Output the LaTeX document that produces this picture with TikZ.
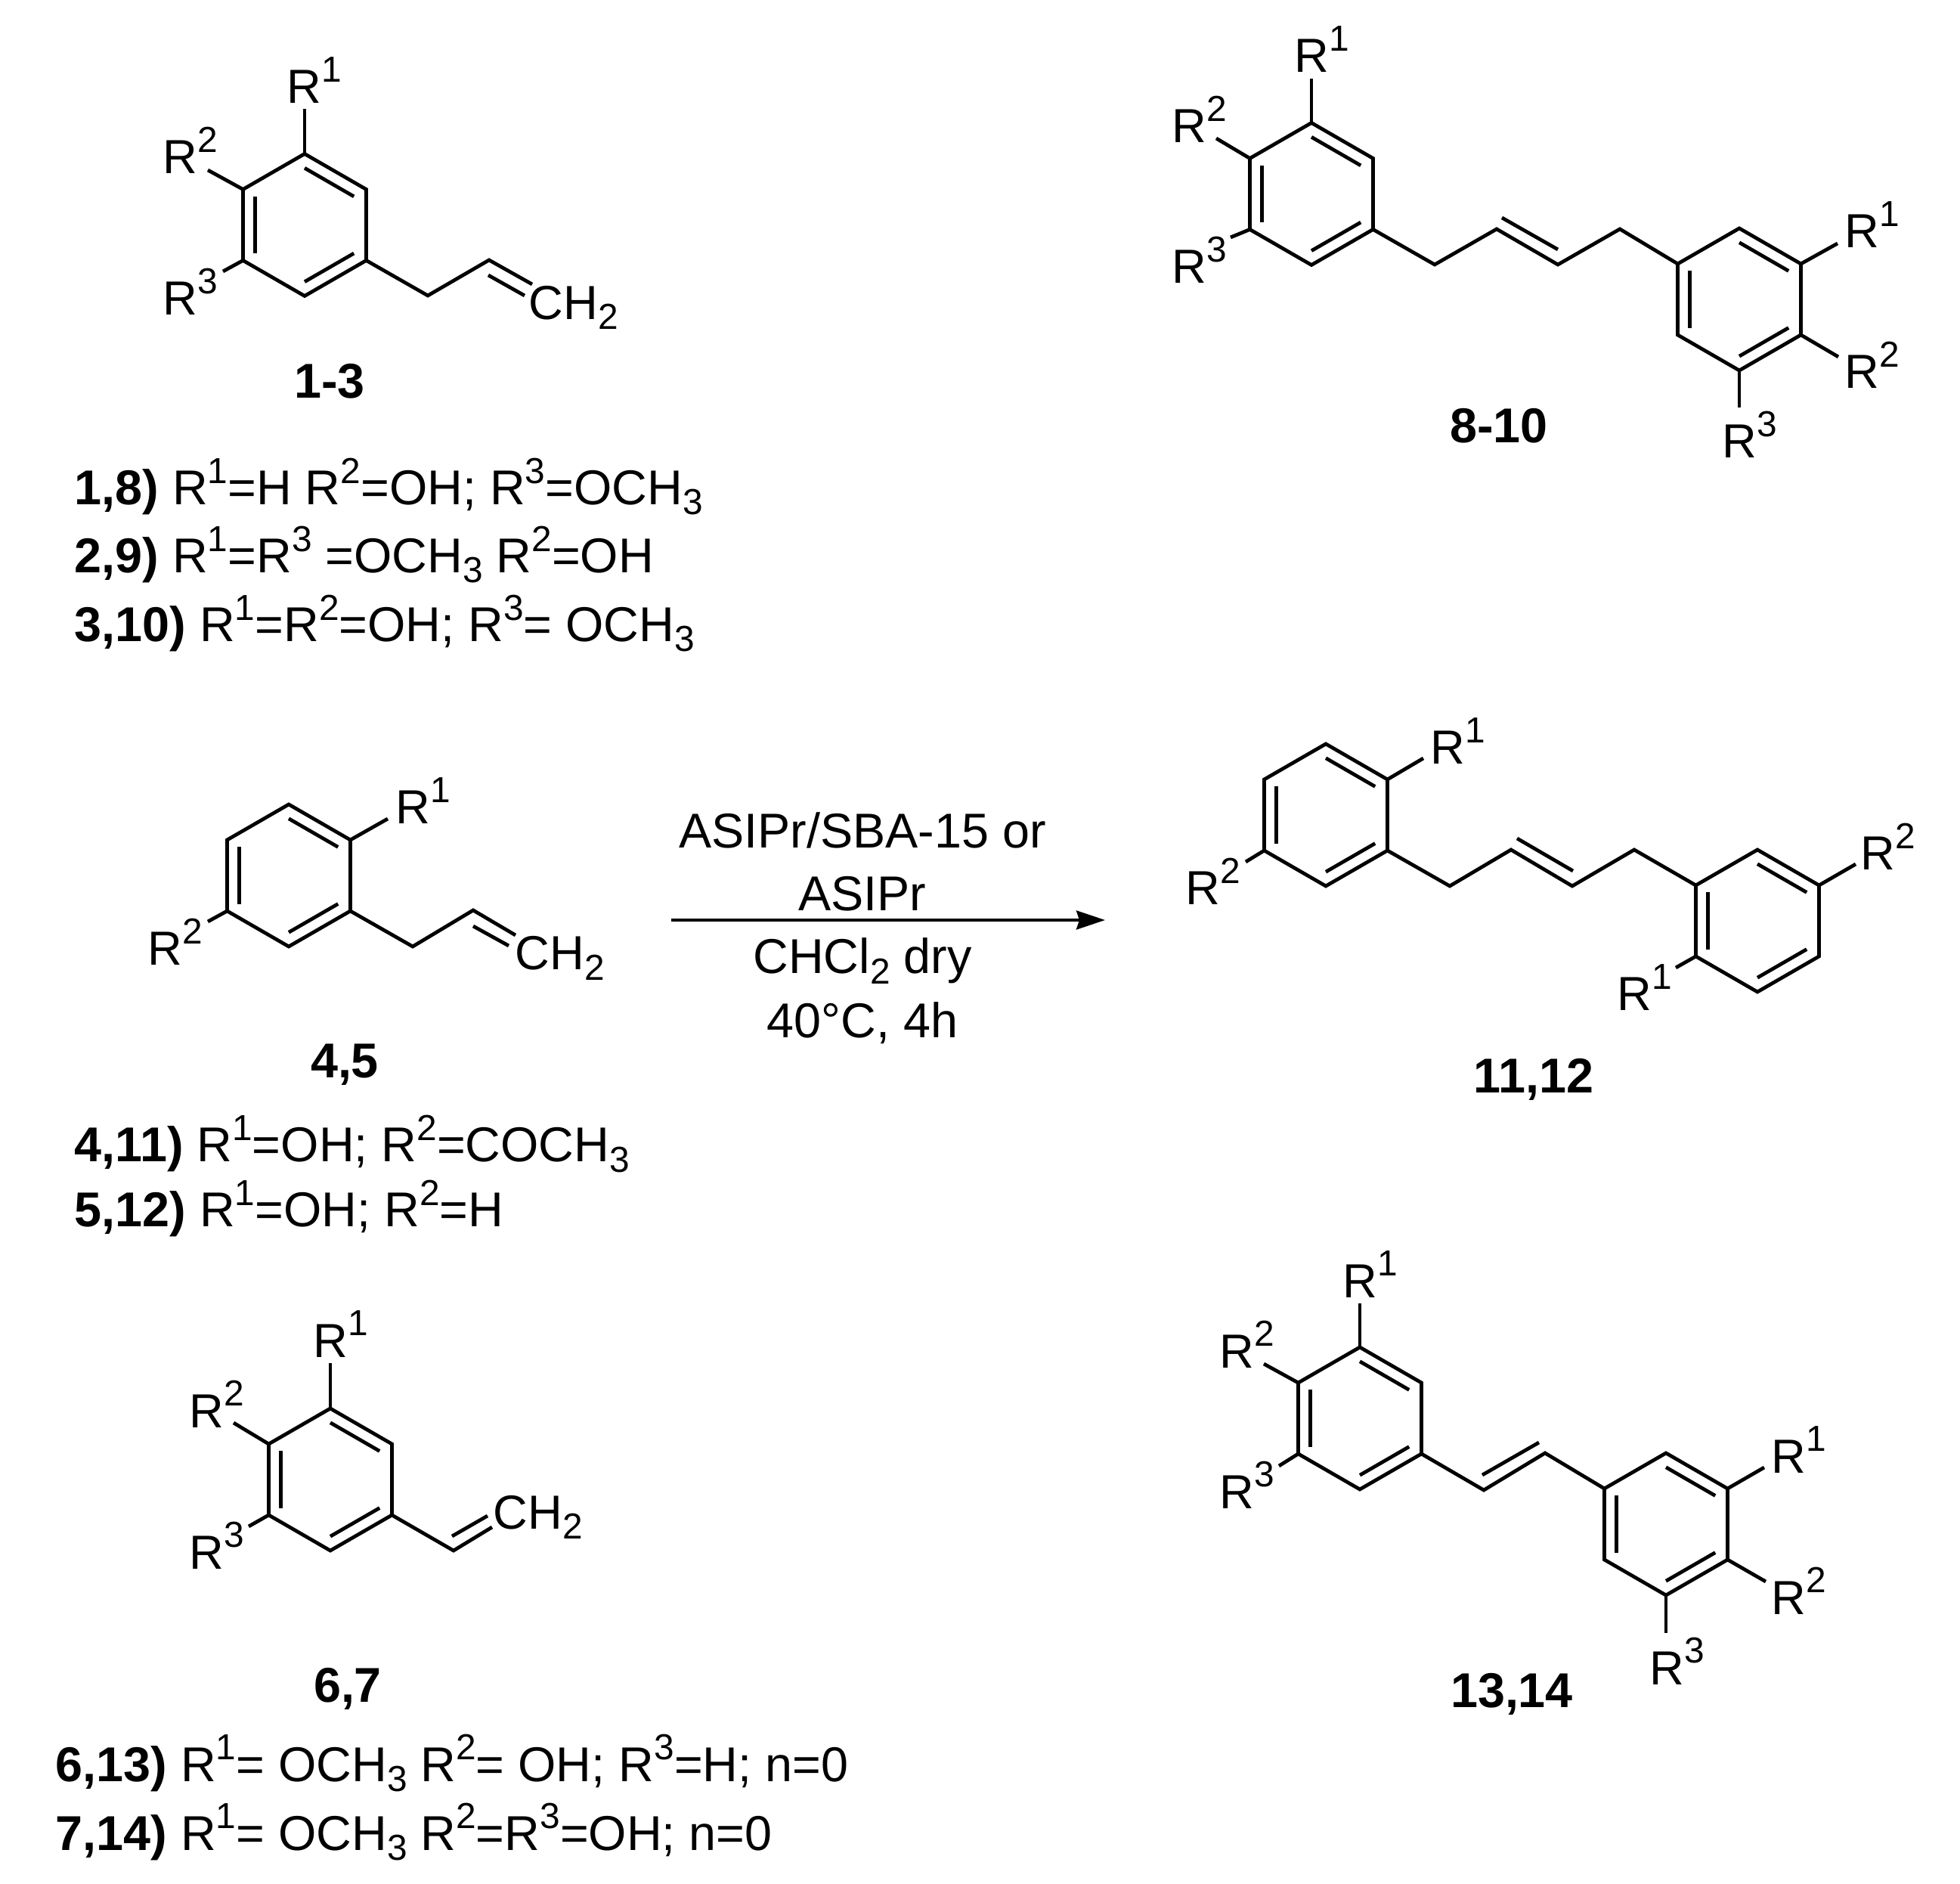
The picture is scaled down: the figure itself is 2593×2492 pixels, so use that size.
\documentclass[tikz,border=0pt]{standalone}
\usepackage{fontspec}
\setmainfont{Liberation Sans}
\usetikzlibrary{calc,arrows.meta}

\newcommand{\rsup}[1]{\raisebox{0.28cm}{\fontsize{13.6pt}{14pt}\selectfont #1}}
\newcommand{\rsub}[1]{\raisebox{-0.13cm}{\fontsize{13.6pt}{14pt}\selectfont #1}}

\begin{document}
\begin{tikzpicture}[
    x=0.01cm,
    y=-0.01cm,
    bond/.style={
        line width=1.35pt,
        line join=miter
    },
    atomtext/.style={
        anchor=base west,
        inner sep=0pt,
        font=\fontsize{18pt}{20pt}\selectfont
    },
    subline/.style={
        anchor=base west,
        inner sep=0pt,
        font=\fontsize{18.4pt}{22pt}\selectfont
    },
    compound/.style={
        anchor=base,
        inner sep=0pt,
        font=\fontsize{18.4pt}{22pt}\selectfont\bfseries
    },
    reagent/.style={
        anchor=base,
        inner sep=0pt,
        font=\fontsize{18.4pt}{22pt}\selectfont
    },
    arrow/.style={
        -{Stealth[length=3.8mm,width=2.5mm,inset=0.4mm]},
        line width=1pt
    }
]
\useasboundingbox (0,0) rectangle (2593,2492);

% Rings
\foreach \r/\cx/\cy in {ringa/403/297.5, ringb/1735/256.5, ringc/2301/396,
                        ringd/382/1158, ringe/1754/1078, ringf/2325/1218,
                        ringg/437/1957, ringh/1799/1876, ringi/2204/2016} {
    \coordinate (\r-c) at (\cx,\cy);
    \coordinate (\r-t) at (\cx,\cy-94);
    \coordinate (\r-ur) at (\cx+81.5,\cy-47);
    \coordinate (\r-lr) at (\cx+81.5,\cy+47);
    \coordinate (\r-b) at (\cx,\cy+94);
    \coordinate (\r-ll) at (\cx-81.5,\cy+47);
    \coordinate (\r-ul) at (\cx-81.5,\cy-47);
    \draw[bond] (\r-t) -- (\r-ur) -- (\r-lr) -- (\r-b) -- (\r-ll) -- (\r-ul) -- cycle;
    \draw[bond] ($(\r-t)!.2!(\r-c)$) -- ($(\r-ur)!.2!(\r-c)$);
    \draw[bond] ($(\r-lr)!.2!(\r-c)$) -- ($(\r-b)!.2!(\r-c)$);
    \draw[bond] ($(\r-ll)!.2!(\r-c)$) -- ($(\r-ul)!.2!(\r-c)$);
}

% Substituent bonds
\foreach \atom/\x/\y in {ringa-t/403/144, ringa-ul/275/225, ringa-ll/295/359,
                         ringb-t/1735/104, ringb-ul/1609/183, ringb-ll/1628/314,
                         ringc-ur/2431/322, ringc-lr/2432/472, ringc-b/2301/539,
                         ringd-ur/513/1083, ringd-ll/275/1219,
                         ringe-ur/1883/1003, ringe-ll/1648/1140,
                         ringf-ur/2455/1143, ringf-ll/2217/1280,
                         ringg-t/437/1803, ringg-ul/309/1882, ringg-ll/329/2019,
                         ringh-t/1799/1724, ringh-ul/1672/1804, ringh-ll/1692/1939,
                         ringi-ur/2334/1941, ringi-lr/2336/2092, ringi-b/2204/2160} {
    \coordinate (\atom-end) at (\x,\y);
    \draw[bond] (\atom) -- (\atom-end);
}

% Side chains
\coordinate (alla1) at (566,391);
\coordinate (alla2) at (647,344);
\coordinate (alla3) at (704,376);
\coordinate (alla4) at (646,364);
\coordinate (alla5) at (694,391);
\draw[bond] (ringa-lr) -- (alla1) -- (alla2) -- (alla3);
\draw[bond] (alla4) -- (alla5);

\coordinate (linkb1) at (1898,350);
\coordinate (linkb2) at (1980,303);
\coordinate (linkb3) at (2061,350);
\coordinate (linkb4) at (2143,303);
\coordinate (linkb5) at (1987,288);
\coordinate (linkb6) at (2061,330);
\draw[bond] (ringb-lr) -- (linkb1) -- (linkb2) -- (linkb3) -- (linkb4) -- (ringc-ul);
\draw[bond] (linkb5) -- (linkb6);

\coordinate (alld1) at (546,1252);
\coordinate (alld2) at (626,1204);
\coordinate (alld3) at (682,1237);
\coordinate (alld4) at (626,1225);
\coordinate (alld5) at (673,1251);
\draw[bond] (ringd-lr) -- (alld1) -- (alld2) -- (alld3);
\draw[bond] (alld4) -- (alld5);

\coordinate (linke1) at (1918,1172);
\coordinate (linke2) at (1999,1124);
\coordinate (linke3) at (2080,1172);
\coordinate (linke4) at (2162,1124);
\coordinate (linke5) at (2007,1109);
\coordinate (linke6) at (2081,1152);
\draw[bond] (ringe-lr) -- (linke1) -- (linke2) -- (linke3) -- (linke4) -- (ringf-ul);
\draw[bond] (linke5) -- (linke6);

\coordinate (vinyg1) at (600,2051);
\coordinate (vinyg2) at (651,2020);
\coordinate (vinyg3) at (598,2032);
\coordinate (vinyg4) at (645,2005);
\draw[bond] (ringg-lr) -- (vinyg1) -- (vinyg2);
\draw[bond] (vinyg3) -- (vinyg4);

\coordinate (linkh1) at (1963,1971);
\coordinate (linkh2) at (2044,1922);
\coordinate (linkh3) at (1961,1951);
\coordinate (linkh4) at (2036,1908);
\draw[bond] (ringh-lr) -- (linkh1) -- (linkh2) -- (ringi-ul);
\draw[bond] (linkh3) -- (linkh4);

% Compound 1-3
\node[atomtext] (a1) at (379,137) {R\rsup{1}};
\node[atomtext] (a2) at (215,230) {R\rsup{2}};
\node[atomtext] (a3) at (215,417) {R\rsup{3}};
\node[atomtext] (ach) at (699,423) {CH\rsub{2}};
\node[compound] (namea) at (436,527) {1-3};

% Compound 8-10
\node[atomtext] (b1) at (1712,96) {R\rsup{1}};
\node[atomtext] (b2) at (1550,189) {R\rsup{2}};
\node[atomtext] (b3) at (1550,375) {R\rsup{3}};
\node[atomtext] (c1) at (2440,328) {R\rsup{1}};
\node[atomtext] (c2) at (2440,514) {R\rsup{2}};
\node[atomtext] (c3) at (2278,606) {R\rsup{3}};
\node[compound] (nameb) at (1983,586) {8-10};

% Substituents of 1-3
\node[subline] (linea) at (98,668) {\textbf{1,8)} R\rsup{1}=H R\rsup{2}=OH; R\rsup{3}=OCH\rsub{3}};
\node[subline] (lineb) at (98,758) {\textbf{2,9)} R\rsup{1}=R\rsup{3} =OCH\rsub{3} R\rsup{2}=OH};
\node[subline] (linec) at (98,849) {\textbf{3,10)} R\rsup{1}=R\rsup{2}=OH; R\rsup{3}= OCH\rsub{3}};

% Compound 4,5
\node[atomtext] (d1) at (523,1090) {R\rsup{1}};
\node[atomtext] (d2) at (195,1277) {R\rsup{2}};
\node[atomtext] (dch) at (681,1283) {CH\rsub{2}};
\node[compound] (named) at (456,1426) {4,5};

% Reaction
\node[reagent] (reaga) at (1141,1122) {ASIPr/SBA-15 or};
\node[reagent] (reagb) at (1141,1205) {ASIPr};
\node[reagent] (reagc) at (1141,1288) {CHCl\rsub{2} dry};
\node[reagent] (reagd) at (1141,1373) {40°C, 4h};
\coordinate (arrowstart) at (888,1217);
\coordinate (arrowend) at (1462,1217);
\draw[arrow] (arrowstart) -- (arrowend);

% Compound 11,12
\node[atomtext] (e1) at (1892,1011) {R\rsup{1}};
\node[atomtext] (e2) at (1568,1197) {R\rsup{2}};
\node[atomtext] (f2) at (2461,1151) {R\rsup{2}};
\node[atomtext] (f1) at (2139,1337) {R\rsup{1}};
\node[compound] (namee) at (2029,1446) {11,12};

% Substituents of 4,5
\node[subline] (lined) at (98,1537) {\textbf{4,11)} R\rsup{1}=OH; R\rsup{2}=COCH\rsub{3}};
\node[subline] (linee) at (98,1623) {\textbf{5,12)} R\rsup{1}=OH; R\rsup{2}=H};

% Compound 6,7
\node[atomtext] (g1) at (414,1795) {R\rsup{1}};
\node[atomtext] (g2) at (250,1888) {R\rsup{2}};
\node[atomtext] (g3) at (250,2075) {R\rsup{3}};
\node[atomtext] (gch) at (652,2022) {CH\rsub{2}};
\node[compound] (nameg) at (460,2251) {6,7};

% Compound 13,14
\node[atomtext] (h1) at (1776,1716) {R\rsup{1}};
\node[atomtext] (h2) at (1613,1809) {R\rsup{2}};
\node[atomtext] (h3) at (1613,1995) {R\rsup{3}};
\node[atomtext] (i1) at (2343,1948) {R\rsup{1}};
\node[atomtext] (i2) at (2343,2135) {R\rsup{2}};
\node[atomtext] (i3) at (2182,2228) {R\rsup{3}};
\node[compound] (nameh) at (2000,2258) {13,14};

% Substituents of 6,7
\node[subline] (linef) at (73,2356) {\textbf{6,13)} R\rsup{1}= OCH\rsub{3} R\rsup{2}= OH; R\rsup{3}=H; n=0};
\node[subline] (lineg) at (73,2447) {\textbf{7,14)} R\rsup{1}= OCH\rsub{3} R\rsup{2}=R\rsup{3}=OH; n=0};

\end{tikzpicture}
\end{document}
